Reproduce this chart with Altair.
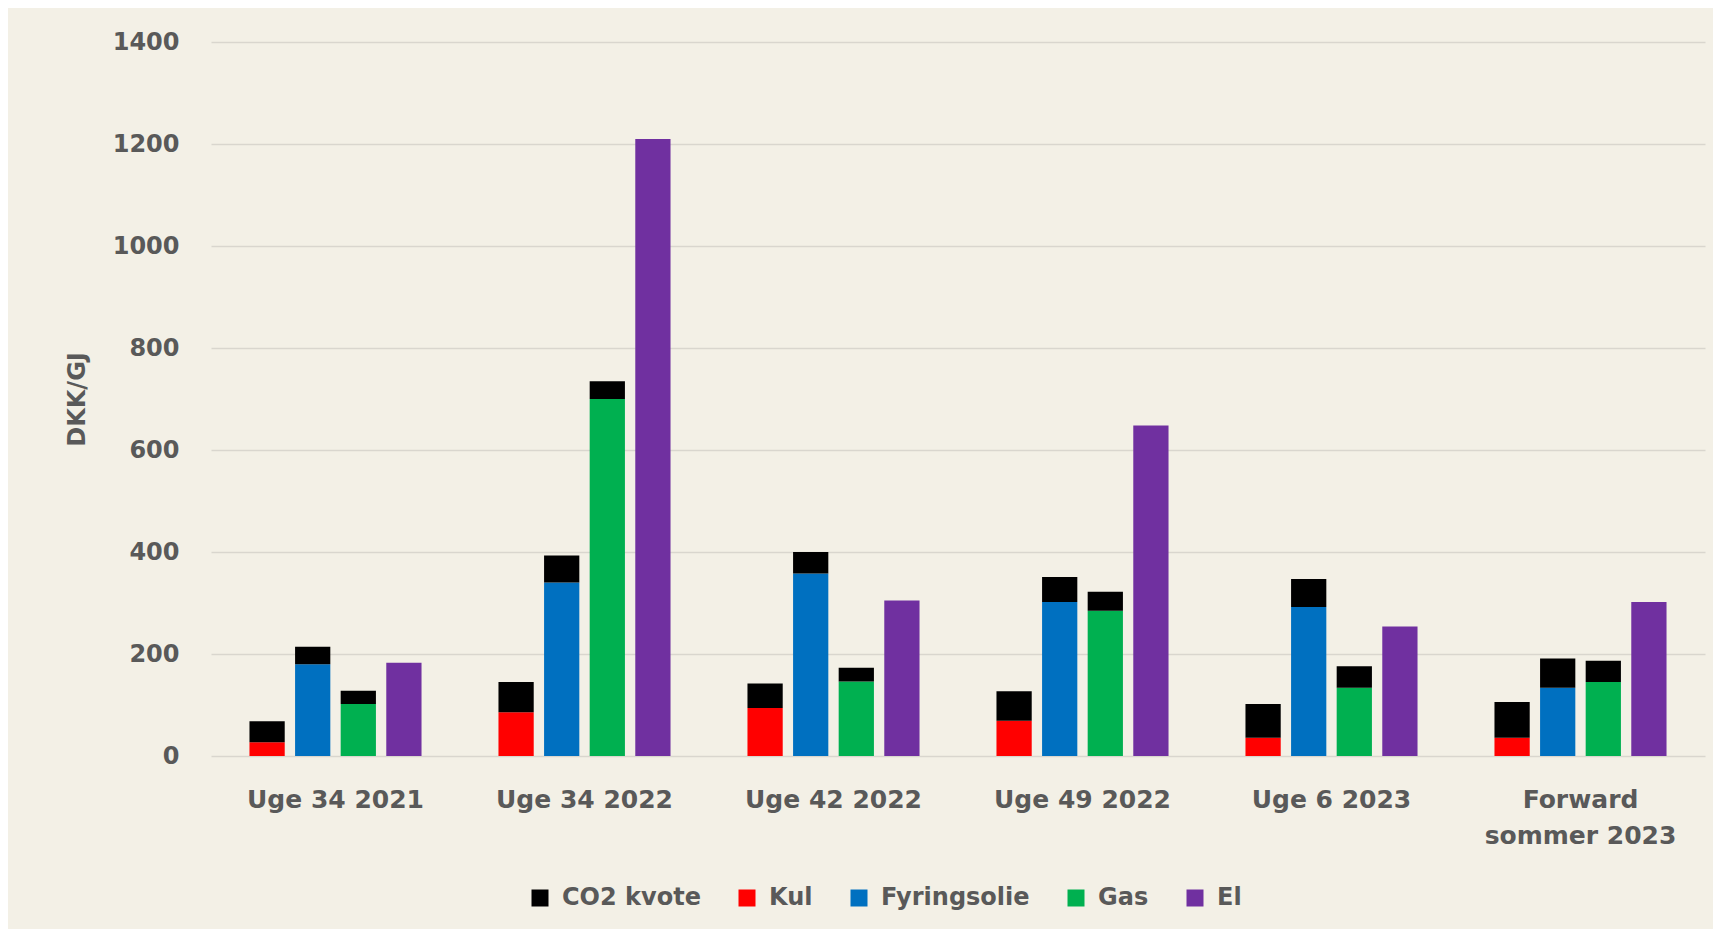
import altair as alt
import pandas as pd

categories = ["Uge 34 2021", "Uge 34 2022", "Uge 42 2022", "Uge 49 2022", "Uge 6 2023", "Forward|sommer 2023"]
fuels = ["Kul", "Fyringsolie", "Gas", "El"]
legend_order = ["CO2 kvote", "Kul", "Fyringsolie", "Gas", "El"]
colors = ["#000000", "#FF0000", "#0070C0", "#00B050", "#7030A0"]

kul = [27, 86, 94, 69, 36, 36]
kul_co2 = [41, 59, 48, 58, 66, 70]
olie = [180, 340, 358, 302, 292, 134]
olie_co2 = [34, 53, 42, 49, 55, 57]
gas = [102, 700, 146, 285, 134, 145]
gas_co2 = [26, 35, 27, 37, 42, 42]
el = [183, 1210, 305, 648, 254, 302]

rows = []
for i, c in enumerate(categories):
    for fuel, base, co2 in [("Kul", kul, kul_co2), ("Fyringsolie", olie, olie_co2), ("Gas", gas, gas_co2), ("El", el, None)]:
        rows.append({"kategori": c, "bar": fuel, "komponent": fuel, "ord": 0, "v": base[i]})
        if co2 is not None:
            rows.append({"kategori": c, "bar": fuel, "komponent": "CO2 kvote", "ord": 1, "v": co2[i]})
df = pd.DataFrame(rows)

TXT = "#595959"
FONT = "DejaVu Sans"

chart = alt.Chart(df).mark_bar().encode(
    x=alt.X("kategori:N", sort=categories,
            scale=alt.Scale(paddingInner=0.309, paddingOuter=0.1545),
            axis=alt.Axis(title=None, labelAngle=0, ticks=False, tickSize=0, domain=False,
                          labelPadding=31, labelBaseline="top", labelFontSize=25,
                          labelFont=FONT, labelFontWeight="bold", labelColor=TXT,
                          labelLimit=0, labelLineHeight=36,
                          labelExpr="split(datum.label, '|')")),
    xOffset=alt.XOffset("bar:N", sort=fuels, scale=alt.Scale(paddingInner=0.227, paddingOuter=0)),
    y=alt.Y("v:Q", stack="zero", scale=alt.Scale(domain=[0, 1400], nice=False),
            axis=alt.Axis(title="DKK/GJ", values=[0, 200, 400, 600, 800, 1000, 1200, 1400],
                          format="d",
                          ticks=False, tickSize=0, domain=False, grid=True,
                          gridColor="#D9D6CE", gridWidth=1.3,
                          labelPadding=32, labelFontSize=24, labelFont=FONT,
                          labelFontWeight="bold", labelColor=TXT,
                          titleFont=FONT, titleFontSize=24, titleFontWeight="bold",
                          titleColor=TXT, titleAngle=270, titleX=-134, titleY=357,
                          titleAlign="center", titleBaseline="middle")),
    color=alt.Color("komponent:N", scale=alt.Scale(domain=legend_order, range=colors),
                    legend=alt.Legend(title=None, orient="none", direction="horizontal",
                                      legendX=317, legendY=844, symbolType="square",
                                      symbolSize=289, symbolStrokeWidth=0,
                                      labelFont=FONT, labelFontSize=24, labelFontWeight="bold",
                                      labelColor=TXT, labelOffset=10, columnPadding=34,
                                      labelLimit=0)),
    order=alt.Order("ord:Q"),
).properties(
    width=1494, height=714,
    autosize=alt.AutoSizeParams(type="none"),
    padding={"left": 203, "top": 34, "right": 8, "bottom": 173},
    background="#F3F0E6",
).configure_view(stroke="transparent")

chart.save("out.html", embed_options={"renderer": "svg", "actions": False})
